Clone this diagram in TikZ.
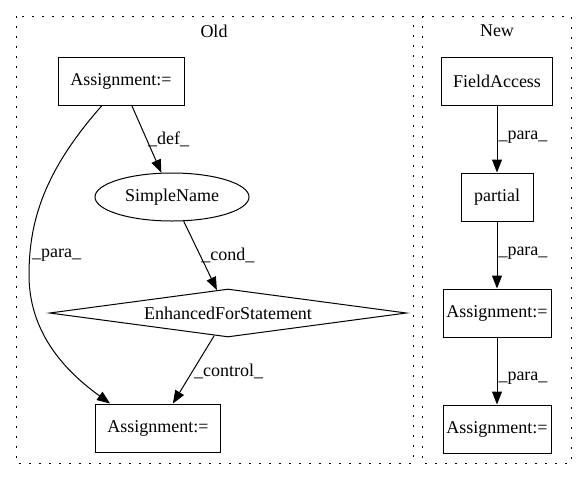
\documentclass[tikz,border=0pt]{standalone}
\usepackage{fontspec}
\setmainfont{Liberation Serif}
\usetikzlibrary{arrows.meta,shapes.geometric}
\begin{document}
\begin{tikzpicture}[x=1pt,y=-1pt,
  every node/.style={font=\fontsize{18}{22}\selectfont},
  box/.style={draw,line width=1pt,rectangle,minimum height=48pt,inner sep=0pt},
  oval/.style={draw,line width=1pt,ellipse,minimum width=154pt,minimum height=48pt,inner sep=0pt},
  dia/.style={draw,line width=1pt,diamond,shape aspect=7.4,minimum width=357pt,minimum height=48pt,inner sep=0pt},
  cluster/.style={draw,line width=1pt,dash pattern=on 1.6pt off 8.4pt},
  edge/.style={draw,line width=1pt,-{Triangle[length=13pt,width=10pt]}},
  lbl/.style={anchor=west,inner sep=1pt}]
\useasboundingbox (0,0) rectangle (587,480);
\path[cluster] (16,16) rectangle (413,463);
\path[cluster] (422,16) rectangle (571,463);
\node (told) at (214,31) {Old};
\node (tnew) at (497,31) {New};
% Old
\node[box,minimum width=126pt] (a1) at (121,81) {Assignment:=};
\node[oval] (sn) at (172,197) {SimpleName};
\node[dia] (efs) at (228,313) {EnhancedForStatement};
\node[box,minimum width=125pt] (a2) at (158,428) {Assignment:=};
\draw[edge] (a1) -- node[lbl,pos=0.5] {\_def\_} (sn);
\draw[edge] (sn) -- node[lbl,pos=0.49] {\_cond\_} (efs);
\draw[edge] (efs) -- node[lbl,pos=0.52] {\_control\_} (a2);
\draw[edge] ([xshift=-19pt]a1.south) .. controls (45,170) and (29,220) .. (29,275)
  .. controls (29,340) and (75,378) .. ([xshift=-48pt]a2.north);
\node[lbl] (lp) at (31,255) {\_para\_};
% New
\node[box,minimum width=111pt] (fa) at (497,81) {FieldAccess};
\node[box,minimum width=72pt] (pa) at (497,197) {partial};
\node[box,minimum width=108pt] (b1) at (497,313) {Assignment:=};
\node[box,minimum width=108pt] (b2) at (497,429) {Assignment:=};
\draw[edge] (fa) -- node[lbl,pos=0.48] {\_para\_} (pa);
\draw[edge] (pa) -- node[lbl,pos=0.48] {\_para\_} (b1);
\draw[edge] (b1) -- node[lbl,pos=0.6] {\_para\_} (b2);
\end{tikzpicture}
\end{document}
